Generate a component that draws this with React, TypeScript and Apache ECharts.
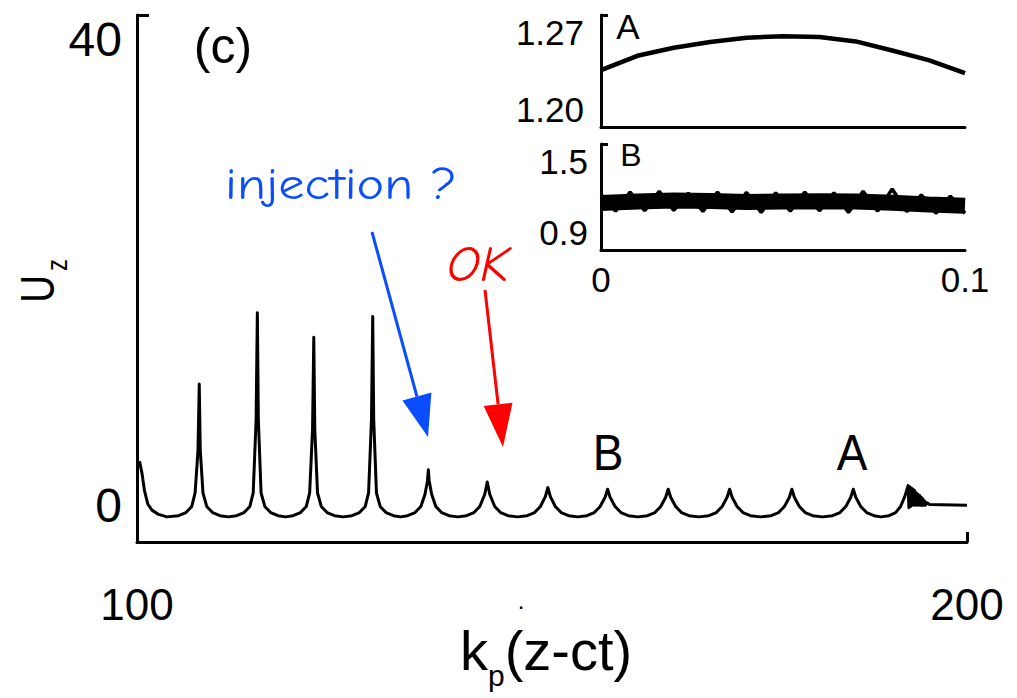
import React, { useEffect, useRef } from "react";
import * as echarts from "echarts";

// ---------- data ----------
const mainXTicks = [100, 200];
const mainYTicks = [0, 40];
// k_p(z-ct) vs U_z
const mainCurve: [number, number][] = [
  [100.3, 3.6], [100.6, 2.6], [100.9, 1.2], [101.3, 0.1], [101.8, -0.4], [102.6, -0.75], [103.6, -0.95],
  [105.0, -0.85], [105.9, -0.6], [106.6, -0.1], [107.0, 1.0], [107.35, 4.5], [107.5, 9.9], [107.62, 4.5], [107.95, 1.0], [108.4, -0.1], [109.1, -0.6], [110.0, -0.85], [111.0, -0.95],
  [112.0, -0.85], [112.9, -0.6], [113.6, -0.1], [114.0, 1.0], [114.35, 7.0], [114.5, 15.7], [114.62, 7.0], [114.95, 1.0], [115.4, -0.1], [116.1, -0.6], [117.0, -0.85], [117.9, -0.95],
  [118.8, -0.85], [119.7, -0.6], [120.4, -0.1], [120.8, 1.0], [121.15, 6.2], [121.3, 13.7], [121.42, 6.2], [121.75, 1.0], [122.2, -0.1], [122.9, -0.6], [123.8, -0.85], [124.85, -0.95],
  [125.9, -0.85], [126.8, -0.6], [127.5, -0.1], [127.9, 1.0], [128.25, 7.0], [128.4, 15.4], [128.52, 7.0], [128.85, 1.0], [129.3, -0.1], [130.0, -0.6], [130.9, -0.85], [131.75, -0.95],
  [132.6, -0.85], [133.5, -0.6], [134.2, -0.1], [134.7, 0.9], [135.0, 2.0], [135.1, 2.9], [135.2, 2.0], [135.5, 0.9], [136.0, -0.1], [136.7, -0.6], [137.6, -0.85], [138.65, -0.95],
  [139.7, -0.85], [140.6, -0.6], [141.3, -0.1], [141.9, 0.9], [142.2, 1.9], [142.5, 0.9], [143.1, -0.1], [143.8, -0.6], [144.7, -0.85], [145.85, -0.95],
  [147.0, -0.85], [147.9, -0.6], [148.6, -0.1], [149.2, 0.7], [149.5, 1.45], [149.8, 0.7], [150.4, -0.1], [151.1, -0.6], [152.0, -0.85], [153.1, -0.95],
  [154.2, -0.85], [155.1, -0.6], [155.8, -0.1], [156.4, 0.65], [156.7, 1.3], [157.0, 0.65], [157.6, -0.1], [158.3, -0.6], [159.2, -0.85], [160.35, -0.95],
  [161.5, -0.85], [162.4, -0.6], [163.1, -0.1], [163.7, 0.65], [164.0, 1.3], [164.3, 0.65], [164.9, -0.1], [165.6, -0.6], [166.5, -0.85], [167.7, -0.95],
  [168.9, -0.85], [169.8, -0.6], [170.5, -0.1], [171.1, 0.65], [171.4, 1.3], [171.7, 0.65], [172.3, -0.1], [173.0, -0.6], [173.9, -0.85], [175.15, -0.95],
  [176.4, -0.85], [177.3, -0.6], [178.0, -0.1], [178.6, 0.65], [178.9, 1.3], [179.2, 0.65], [179.8, -0.1], [180.5, -0.6], [181.4, -0.85], [182.6, -0.95],
  [183.8, -0.85], [184.7, -0.6], [185.4, -0.1], [186.0, 0.65], [186.3, 1.3], [186.6, 0.65], [187.2, -0.1], [187.9, -0.6], [188.8, -0.85], [189.6, -0.95],
  [190.6, -0.85], [191.4, -0.6], [192.0, -0.1], [192.5, 0.7], [192.9, 1.6],
  [193.0, -0.2], [193.1, 1.5], [193.2, -0.1], [193.3, 1.4], [193.4, 0.0], [193.5, 1.3], [193.6, 0.0], [193.7, 1.2], [193.8, 0.0],
  [193.9, 1.0], [194.0, 0.0], [194.1, 0.9], [194.2, 0.0], [194.3, 0.8], [194.4, 0.0], [194.5, 0.65], [194.6, 0.0], [194.7, 0.5],
  [194.8, 0.0], [194.9, 0.35], [195.0, 0.0], [195.2, 0.2], [195.5, 0.05], [200.0, 0.0],
];

// insets
const insetX = [0, 0.01, 0.02, 0.03, 0.04, 0.05, 0.06, 0.07, 0.08, 0.09, 0.1];
const insetA = [1.2356, 1.2445, 1.2495, 1.2531, 1.2558, 1.2567, 1.2562, 1.2535, 1.2478, 1.2418, 1.2337];
const insetAYTicks = [1.2, 1.27];
const insetBYTicks = [0.9, 1.5];
const insetXTicks = [0, 0.1];
const insetBCenter = [1.166, 1.174, 1.18, 1.177, 1.172, 1.174, 1.176, 1.174, 1.168, 1.158, 1.15];
const insetBEdgeX = [
  0, 0.004, 0.008, 0.012, 0.016, 0.02, 0.024, 0.028, 0.032, 0.036, 0.04, 0.044, 0.048,
  0.052, 0.056, 0.06, 0.064, 0.068, 0.072, 0.076, 0.08, 0.084, 0.088, 0.092, 0.096, 0.1,
];
const insetBEdge = [
  1.215, 1.12, 1.228, 1.122, 1.232, 1.124, 1.222, 1.118, 1.228, 1.115, 1.226, 1.112, 1.224,
  1.12, 1.228, 1.122, 1.224, 1.112, 1.232, 1.12, 1.245, 1.118, 1.212, 1.108, 1.205, 1.108,
];

// ---------- styles ----------
const SANS = "'Liberation Sans', Arial, Helvetica, sans-serif";
const COMIC = "'Comic Sans MS', 'Comic Neue', 'Noto Sans', sans-serif";
const BLUE = "#0a4dff";
const RED = "#ff0000";
const AX = { color: "#000", width: 3 };

function arrow(x1: number, y1: number, tipX: number, tipY: number, len: number, half: number, color: string) {
  const dx = tipX - x1;
  const dy = tipY - y1;
  const d = Math.hypot(dx, dy);
  const ux = dx / d;
  const uy = dy / d;
  const bx = tipX - ux * len;
  const by = tipY - uy * len;
  const px = -uy;
  const py = ux;
  return [
    { type: "line", shape: { x1, y1, x2: bx, y2: by }, style: { stroke: color, lineWidth: 3 } },
    {
      type: "polygon",
      shape: { points: [[tipX, tipY], [bx + px * half, by + py * half], [bx - px * half, by - py * half]] },
      style: { fill: color },
    },
  ];
}

function txt(x: number, y: number, text: string, fontSize: number, fontFamily: string, extra: any = {}) {
  const {
    fill = "#000", align = "center", vAlign = "middle", fontStyle = "normal",
    rotation = 0, scaleX = 1, scaleY = 1, rich,
  } = extra;
  const style: any = { text, fontSize, fontFamily, fill, textAlign: align, textVerticalAlign: vAlign, fontStyle };
  if (rich) style.rich = rich;
  return { type: "text", x, y, rotation, scaleX, scaleY, style };
}

export default function App() {
  const ref = useRef<HTMLDivElement>(null);
  useEffect(() => {
    if (!ref.current) return;
    const chart = echarts.init(ref.current, null, { renderer: "svg" });
    const option: any = {
      animation: false,
      backgroundColor: "#fff",
      textStyle: { fontFamily: SANS },
      grid: [
        { left: 137, top: 15, width: 830, height: 527 },
        { left: 601, top: 15, width: 364, height: 112 },
        { left: 601, top: 144, width: 364, height: 106 },
      ],
      xAxis: [
        {
          gridIndex: 0, type: "value", min: mainXTicks[0], max: mainXTicks[1], interval: 100,
          axisLine: { show: true, onZero: false, lineStyle: AX },
          axisTick: { show: true, inside: true, length: 10, customValues: [200], lineStyle: AX },
          axisLabel: { fontSize: 44, fontFamily: SANS, color: "#000", margin: 40, customValues: mainXTicks },
          splitLine: { show: false },
        },
        {
          gridIndex: 1, type: "value", min: 0, max: 0.1,
          axisLine: { show: true, onZero: false, lineStyle: AX },
          axisTick: { show: false }, axisLabel: { show: false }, splitLine: { show: false },
        },
        {
          gridIndex: 2, type: "value", min: 0, max: 0.1, interval: 0.1,
          axisLine: { show: true, onZero: false, lineStyle: AX },
          axisTick: { show: false },
          axisLabel: {
            fontSize: 35, fontFamily: SANS, color: "#000", margin: 12, customValues: insetXTicks,
            formatter: (v: number) => (v === 0 ? "0" : String(v)),
          },
          splitLine: { show: false },
        },
      ],
      yAxis: [
        {
          gridIndex: 0, type: "value", min: -3, max: 40,
          axisLine: { show: true, onZero: false, lineStyle: AX },
          axisTick: { show: true, inside: true, length: 12, customValues: [40], lineStyle: AX },
          axisLabel: {
            customValues: mainYTicks, fontSize: 48, fontFamily: SANS, color: "#000", margin: 15,
            verticalAlignMaxLabel: "top",
          },
          splitLine: { show: false },
        },
        {
          gridIndex: 1, type: "value", min: insetAYTicks[0], max: insetAYTicks[1],
          axisLine: { show: true, onZero: false, lineStyle: AX },
          axisTick: { show: true, inside: true, length: 7, customValues: [1.27], lineStyle: AX },
          axisLabel: {
            customValues: insetAYTicks, fontSize: 35, fontFamily: SANS, color: "#000", margin: 17,
            formatter: (v: number) => v.toFixed(2),
            verticalAlignMinLabel: "bottom", verticalAlignMaxLabel: "top",
          },
          splitLine: { show: false },
        },
        {
          gridIndex: 2, type: "value", min: insetBYTicks[0], max: insetBYTicks[1],
          axisLine: { show: true, onZero: false, lineStyle: AX },
          axisTick: { show: true, inside: true, length: 7, customValues: [1.5], lineStyle: AX },
          axisLabel: {
            customValues: insetBYTicks, fontSize: 35, fontFamily: SANS, color: "#000", margin: 13,
            formatter: (v: number) => v.toFixed(1),
            verticalAlignMinLabel: "bottom", verticalAlignMaxLabel: "top",
          },
          splitLine: { show: false },
        },
      ],
      series: [
        {
          type: "line", xAxisIndex: 0, yAxisIndex: 0, data: mainCurve, symbol: "none",
          lineStyle: { color: "#000", width: 3, join: "round" }, silent: true,
        },
        {
          type: "line", xAxisIndex: 1, yAxisIndex: 1, data: insetX.map((x, i) => [x, insetA[i]]),
          symbol: "none", lineStyle: { color: "#000", width: 4.5 }, silent: true,
        },
        {
          type: "line", xAxisIndex: 2, yAxisIndex: 2, data: insetX.map((x, i) => [x, insetBCenter[i]]),
          symbol: "none", lineStyle: { color: "#000", width: 16 }, silent: true,
        },
        {
          type: "line", xAxisIndex: 2, yAxisIndex: 2, data: insetBEdgeX.map((x, i) => [x, insetBEdge[i]]),
          symbol: "none", lineStyle: { color: "#000", width: 3.5 }, silent: true,
        },
      ],
      graphic: [
        txt(223, 46, "(c)", 50, SANS),
        txt(225, 184, "injection ?", 44, COMIC, { fill: BLUE, align: "left", scaleX: 1.19 }),
        txt(478, 265, "OK", 50, COMIC, { fill: RED, fontStyle: "italic", scaleX: 1.05 }),
        ...arrow(372, 232, 428, 437, 42, 15, BLUE),
        ...arrow(485, 290, 503, 447, 43, 14.5, RED),
        txt(608, 453, "B", 50, SANS, { scaleX: 0.92 }),
        txt(852, 453, "A", 50, SANS, { scaleX: 0.92 }),
        txt(628, 26, "A", 35, SANS),
        txt(631, 155, "B", 32, SANS),
        txt(521, 600, ".", 24, SANS),
        txt(37, 289, "U", 48, SANS, { rotation: Math.PI / 2, scaleX: 0.8 }),
        txt(57, 265, "z", 30, SANS, { rotation: Math.PI / 2, scaleX: 0.8 }),
        txt(460, 650, "{k|k}{p|p}{t|(z-ct)}", 56, SANS, {
          align: "left",
          rich: {
            k: { fontSize: 56, fontFamily: SANS, lineHeight: 60, fill: "#000" },
            p: { fontSize: 30, fontFamily: SANS, lineHeight: 30, padding: [50, 0, 0, 0], fill: "#000" },
            t: { fontSize: 56, fontFamily: SANS, lineHeight: 60, fill: "#000" },
          },
        }),
      ],
    };
    chart.setOption(option);
    return () => chart.dispose();
  }, []);
  return <div ref={ref} style={{ position: "fixed", left: 0, top: 0, width: 1017, height: 698 }} />;
}
